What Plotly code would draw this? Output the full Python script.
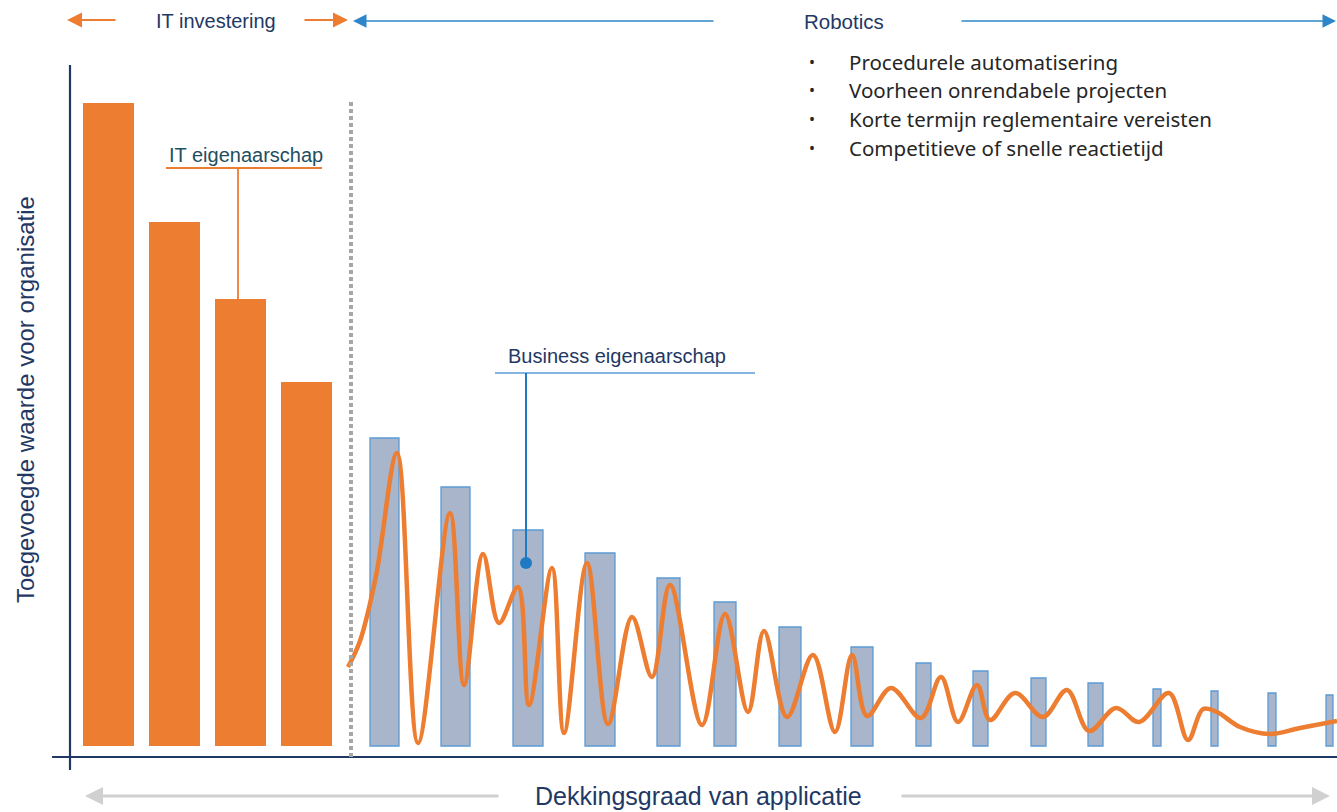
import plotly.graph_objects as go

# ---------------- data ----------------
it_labels = ["IT 1", "IT 2", "IT 3", "IT 4"]
it_values = [643, 524, 447, 364]

biz_labels = [f"B{i}" for i in range(1, 17)]
biz_values = [308, 259, 216, 193, 168, 144, 119, 99, 83, 75, 68, 63, 57, 55, 53, 51]

wave_x = [348, 360, 376, 397, 418, 450, 464, 483, 499, 518, 529, 552, 564, 587, 608, 632, 652,
          670, 702, 725, 748, 764, 787, 813, 835, 852, 867, 891, 921, 941, 958, 977, 990,
          1015, 1043, 1067, 1089, 1116, 1139, 1169, 1188, 1203, 1217, 1240, 1270, 1300, 1337]
wave_y = [79, 105, 170, 293, 3, 233, 61, 192, 123, 159, 41, 178, 13, 183, 22, 129, 69,
          161, 21, 132, 34, 115, 29, 91, 14, 91, 30, 58, 28, 69, 24, 61, 26,
          53, 29, 56, 15, 38, 24, 53, 6, 37, 34, 19, 12, 18, 25]

bullets = ["Procedurele automatisering", "Voorheen onrendabele projecten",
           "Korte termijn reglementaire vereisten", "Competitieve of snelle reactietijd"]

# ---------------- layout constants ----------------
it_x = [108.5, 174.5, 240.5, 306.5]
it_w = [51, 51, 51, 51]
biz_x = [384.5, 455.5, 528, 600, 668.5, 725, 790, 862, 923.5, 980.5, 1038.5, 1095.5,
         1157, 1214.5, 1272, 1329.5]
biz_w = [29, 29, 30, 30, 23, 22, 22, 22, 15, 15, 15, 15, 8, 7, 8, 7]

ORANGE = "#ed7d31"
NAVY = "#1f3864"
BLUE = "#5b9bd5"
W, H = 1337, 812

fig = go.Figure()
fig.add_trace(go.Bar(x=it_x, y=it_values, width=it_w, base=0,
                     marker=dict(color=ORANGE, line=dict(width=0)),
                     hovertext=it_labels, showlegend=False))
fig.add_trace(go.Bar(x=biz_x, y=biz_values, width=biz_w, base=0,
                     marker=dict(color="#a8b5cb", line=dict(color=BLUE, width=1.3)),
                     hovertext=biz_labels, showlegend=False))
fig.add_trace(go.Scatter(x=wave_x, y=wave_y, mode="lines",
                         line=dict(color=ORANGE, width=4.5, shape="spline", smoothing=1.0),
                         showlegend=False, hoverinfo="skip"))
# Business ownership marker dot
fig.add_trace(go.Scatter(x=[526], y=[183], mode="markers",
                         marker=dict(color="#1f7ac4", size=12), showlegend=False,
                         hoverinfo="skip"))

def px(y):  # pixel row -> value units
    return 746 - y

shapes = [
    # axes
    dict(type="line", x0=70, x1=70, y0=px(65), y1=px(770), line=dict(color=NAVY, width=2.2)),
    dict(type="line", x0=52, x1=1337, y0=px(757), y1=px(757), line=dict(color=NAVY, width=2.2)),
    # dotted divider
    dict(type="line", x0=351, x1=351, y0=px(102), y1=px(757),
         line=dict(color="#a6a6a6", width=4, dash="4px,3px")),
    # IT eigenaarschap callout
    dict(type="line", x0=166, x1=322, y0=px(168), y1=px(168), line=dict(color=ORANGE, width=1.8)),
    dict(type="line", x0=238, x1=238, y0=px(168), y1=px(299), line=dict(color=ORANGE, width=1.8)),
    # Business eigenaarschap callout
    dict(type="line", x0=495, x1=755, y0=px(373), y1=px(373), line=dict(color=BLUE, width=1.6)),
    dict(type="line", x0=526, x1=526, y0=px(373), y1=px(563), line=dict(color="#1f7ac4", width=2)),
]

ann = []
def arrow(x_head, x_tail, y, color, width, size=1.3):
    ann.append(dict(x=x_head, y=px(y), ax=x_tail, ay=px(y), xref="x", yref="y",
                    axref="x", ayref="y", text="", showarrow=True, arrowhead=2,
                    arrowsize=size, arrowwidth=width, arrowcolor=color))

arrow(67, 117, 20, ORANGE, 2, 1.5)
arrow(348, 303, 20, ORANGE, 2, 1.5)
arrow(353, 715, 21, "#2e86c9", 1.5, 1.8)
arrow(1336, 960, 21, "#2e86c9", 1.5, 1.8)
arrow(85, 500, 796, "#d0d0d0", 3, 1.2)
arrow(1330, 900, 796, "#d0d0d0", 3, 1.2)

def label(x, y, text, size, color, xanchor="left", family="Liberation Sans, Arial", textangle=0):
    ann.append(dict(x=x, y=px(y), xref="x", yref="y", text=text, showarrow=False,
                    xanchor=xanchor, yanchor="middle", textangle=textangle,
                    font=dict(family=family, size=size, color=color)))

label(216, 21, "IT investering", 20, NAVY, "center")
label(844, 21, "Robotics", 20.5, NAVY, "center")
label(245.5, 155, "IT eigenaarschap", 20, "#1f4e5f", "center")
label(616.5, 356, "Business eigenaarschap", 20, NAVY, "center")
label(698, 796, "Dekkingsgraad van applicatie", 25, NAVY, "center")
label(25, 400, "Toegevoegde waarde voor organisatie", 24, NAVY, "center", textangle=-90)

for i, t in enumerate(bullets):
    yy = [62, 90, 119, 148][i]
    label(812, yy, "•", 16, "#262626", "center", family="Noto Sans")
    label(847, yy, t, 20.5, "#262626", "left", family="Noto Sans")

fig.update_layout(
    width=W, height=H, margin=dict(l=0, r=0, t=0, b=0),
    paper_bgcolor="white", plot_bgcolor="white",
    barmode="overlay", showlegend=False,
    xaxis=dict(range=[0, W], visible=False, fixedrange=True),
    yaxis=dict(range=[746 - H, 746], visible=False, fixedrange=True),
    shapes=shapes, annotations=ann,
)

fig.write_html("out.html")
